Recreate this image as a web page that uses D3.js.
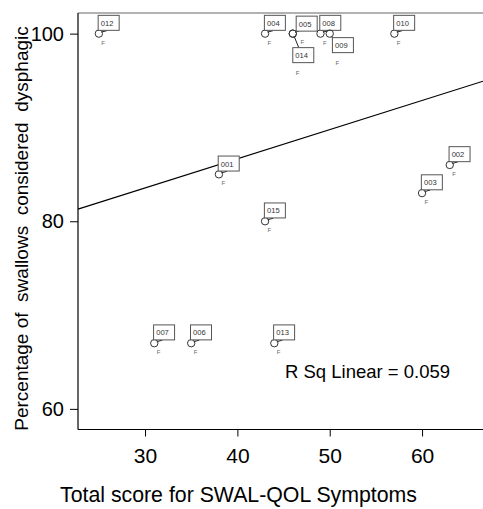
<!DOCTYPE html>
<html>
<head>
<meta charset="utf-8">
<script src="https://cdn.jsdelivr.net/npm/d3@7"></script>
<style>
  body { margin: 0; background: #fff; }
  svg { display: block; font-family: "Liberation Sans", Arial, sans-serif; }
</style>
</head>
<body>
<div id="chart"></div>
<script>
// case ids, scores and percentages
var caseIds   = ["012", "004", "005", "014", "008", "009", "010", "001", "015", "002", "003", "007", "006", "013"];
var qolScores = [25, 43, 46, 46, 49, 50, 57, 38, 43, 63, 60, 31, 35, 44];
var dysphagic = [100, 100, 100, 100, 100, 100, 100, 85, 80, 86, 83, 67, 67, 67];
var caseSex   = ["F", "F", "F", "F", "F", "F", "F", "F", "F", "F", "F", "F", "F", "F"];

var xTicks = [30, 40, 50, 60];
var yTicks = [60, 80, 100];

var width = 483, height = 509;
var plot = {left: 78, right: 483, top: 13, bottom: 429.5};

// x: 30 -> 145px, 60 -> 422px ; y: 100 -> 33.3px, 60 -> 409.3px
var xScale = d3.scaleLinear().domain([22.74, 66.6]).range([plot.left, plot.right]);
var yScale = d3.scaleLinear().domain([57.8, 102.2]).range([plot.bottom, plot.top]);

var svg = d3.select("#chart").append("svg")
  .attr("width", width)
  .attr("height", height);

svg.append("rect").attr("width", width).attr("height", height).attr("fill", "#fff");

// frame
svg.append("line")
  .attr("x1", plot.left).attr("x2", plot.right)
  .attr("y1", plot.top).attr("y2", plot.top)
  .attr("stroke", "#666").attr("stroke-width", 1.2);
svg.append("line")
  .attr("x1", plot.left).attr("x2", plot.left)
  .attr("y1", plot.top).attr("y2", plot.bottom)
  .attr("stroke", "#000").attr("stroke-width", 1.2);
svg.append("line")
  .attr("x1", plot.left).attr("x2", plot.right)
  .attr("y1", plot.bottom).attr("y2", plot.bottom)
  .attr("stroke", "#000").attr("stroke-width", 1.2);

// axes
var yAxis = svg.append("g")
  .attr("transform", "translate(" + plot.left + ",0)")
  .call(d3.axisLeft(yScale).tickValues(yTicks).tickSize(8).tickPadding(6).tickSizeOuter(0));
yAxis.select(".domain").remove();
yAxis.selectAll("text").attr("font-size", 20).attr("fill", "#000")
  .attr("font-family", "Liberation Sans, Arial, sans-serif");

var xAxis = svg.append("g")
  .attr("transform", "translate(0," + plot.bottom + ")")
  .call(d3.axisBottom(xScale).tickValues(xTicks).tickSize(7).tickPadding(12).tickSizeOuter(0));
xAxis.select(".domain").remove();
xAxis.selectAll("text").attr("font-size", 21).attr("fill", "#000")
  .attr("font-family", "Liberation Sans, Arial, sans-serif");

// axis titles
svg.append("text")
  .attr("x", 238.5).attr("y", 501.5)
  .attr("text-anchor", "middle")
  .attr("font-size", 21.3)
  .text("Total score for SWAL-QOL Symptoms");

svg.append("text")
  .attr("transform", "translate(28,228.5) rotate(-90)")
  .attr("text-anchor", "middle")
  .attr("font-size", 19)
  .style("white-space", "pre")
  .text("Percentage of  swallows  considered  dysphagic");

// linear fit, least squares
var mx = d3.mean(qolScores), my = d3.mean(dysphagic);
var sxy = d3.sum(qolScores, function(d, i) { return (d - mx) * (dysphagic[i] - my); });
var sxx = d3.sum(qolScores, function(d) { return (d - mx) * (d - mx); });
var syy = d3.sum(dysphagic, function(d) { return (d - my) * (d - my); });
var slope = sxy / sxx, intercept = my - slope * mx;
var rsq = (sxy * sxy) / (sxx * syy);

var xd = xScale.domain();
svg.append("line")
  .attr("x1", xScale(xd[0])).attr("y1", yScale(intercept + slope * xd[0]))
  .attr("x2", xScale(xd[1])).attr("y2", yScale(intercept + slope * xd[1]))
  .attr("stroke", "#000").attr("stroke-width", 1.2);

svg.append("text")
  .attr("x", 285).attr("y", 377.5)
  .attr("font-size", 18.5)
  .text("R Sq Linear = " + rsq.toFixed(3));

// label placement around each point (box top-left, F label), default above-right
var labelOffsets = {
  "005": {bx: 3.4, by: -17.5, fx: 7.7, fy: 10, lx: 7, ly: -3},
  "014": {bx: 0, by: 14, fx: 3, fy: 41, lx: 6, ly: 14},
  "009": {bx: 2.7, by: 4, fx: 5.7, fy: 31.5, lx: 3.5, ly: 4}
};
var defaultOffset = {bx: -0.7, by: -18.3, fx: 2.5, fy: 11, lx: 8, ly: -3};

var points = svg.append("g").selectAll("g")
  .data(caseIds)
  .enter().append("g")
  .attr("transform", function(d, i) {
    return "translate(" + xScale(qolScores[i]) + "," + yScale(dysphagic[i]) + ")";
  });

points.append("line")
  .attr("x1", function(d) { var o = labelOffsets[d] || defaultOffset; return o.ly > 0 ? 1.5 : 2.5; })
  .attr("y1", function(d) { var o = labelOffsets[d] || defaultOffset; return o.ly > 0 ? 3 : -1.5; })
  .attr("x2", function(d) { return (labelOffsets[d] || defaultOffset).lx; })
  .attr("y2", function(d) { return (labelOffsets[d] || defaultOffset).ly; })
  .attr("stroke", "#222").attr("stroke-width", 1);

points.append("circle")
  .attr("r", 3.7)
  .attr("fill", "none")
  .attr("stroke", "#333")
  .attr("stroke-width", 1);

points.append("rect")
  .attr("x", function(d) { return (labelOffsets[d] || defaultOffset).bx; })
  .attr("y", function(d) { return (labelOffsets[d] || defaultOffset).by; })
  .attr("width", 21).attr("height", 15)
  .attr("fill", "#fff")
  .attr("stroke", "#555").attr("stroke-width", 1);

points.append("text")
  .attr("x", function(d) { return (labelOffsets[d] || defaultOffset).bx + 2.6; })
  .attr("y", function(d) { return (labelOffsets[d] || defaultOffset).by + 10.5; })
  .attr("font-size", 7.6)
  .attr("fill", "#333")
  .text(function(d) { return d; });

points.append("text")
  .attr("x", function(d) { return (labelOffsets[d] || defaultOffset).fx; })
  .attr("y", function(d) { return (labelOffsets[d] || defaultOffset).fy; })
  .attr("font-size", 6)
  .attr("fill", "#666")
  .text(function(d, i) { return caseSex[i]; });
</script>
</body>
</html>
